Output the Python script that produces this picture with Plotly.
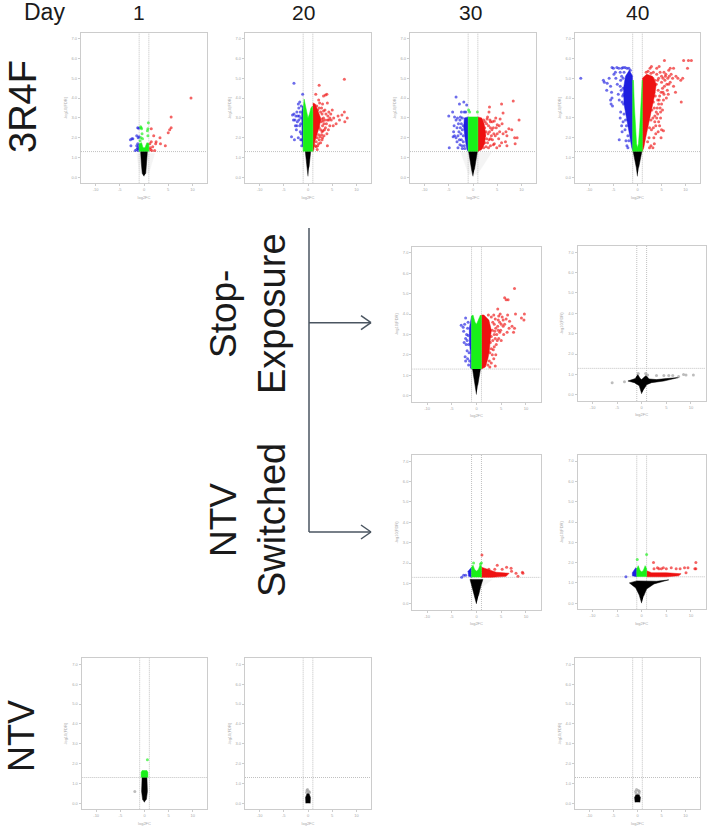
import plotly.graph_objects as go

WIDTH = 709
HEIGHT = 831

days = ["1", "20", "30", "40"]
x_ticks = [-10, -5, 0, 5, 10]
x_tick_labels = ["-10", "-5", "0", "5", "10"]
y_ticks = [0, 1, 2, 3, 4, 5, 6, 7]
y_tick_labels = ["0.0", "1.0", "2.0", "3.0", "4.0", "5.0", "6.0", "7.0"]
fc_cut = 1
fdr_cut = 1.3

# 3R4F day 1
a_faint = [(-0.9, 0.2), (-1.5, 1.2), (2.2, 1.2), (1.0, 0.2)]
a_black = [(0, 0.05), (-0.35, 0.2), (-0.55, 0.7), (-0.7, 1.3), (0.7, 1.3), (0.55, 0.7), (0.35, 0.2)]
a_green = [(-1, 1.3), (-1, 1.7), (-0.5, 1.75), (-0.2, 1.5), (0.2, 1.5), (0.6, 1.75), (1, 1.7), (1, 1.3)]
a_green_pts = [(0.9, 2.75), (-0.6, 2.5), (-0.5, 2.45), (-0.7, 2.55), (-0.6, 2.0), (-0.3, 1.95), (0.8, 2.1),
               (0.7, 2.35), (0.8, 2.45), (-0.8, 1.85), (-0.4, 2.2)]
a_blue_pts = [(-1.3, 1.7), (-2.5, 1.95), (-2.8, 1.9), (-2.3, 1.95), (-1.5, 2.1), (-1, 2.05), (-1.2, 2.0),
              (-1.3, 2.5), (-1.1, 2.48), (-2.7, 1.6), (-1.5, 1.6), (-1.3, 1.5), (-1.1, 1.6), (-1.2, 1.45),
              (-1.8, 1.35), (-1.5, 1.4), (-1.2, 1.35)]
a_red_pts = [(9.7, 4.0), (5.6, 3.05), (5.6, 2.5), (5.3, 2.4), (5.0, 2.25), (1.5, 2.45), (3.3, 2.0), (2.0, 2.1),
             (2.5, 1.8), (2.4, 1.7), (3.4, 1.7), (4.4, 1.6), (1.5, 1.8), (1.2, 1.7), (1.3, 1.5), (1.8, 1.55),
             (1.6, 1.35), (2.2, 1.35), (1.3, 1.4)]

# 3R4F day 20
b_black = [(0, 0.05), (-0.2, 0.5), (-0.55, 1.3), (0.55, 1.3), (0.2, 0.5)]
b_green = [(-1, 1.3), (-1, 3.4), (-0.8, 3.95), (-0.55, 3.6), (-0.3, 3.2), (0, 3.0), (0.3, 3.2), (0.6, 3.5),
           (0.9, 3.6), (1, 3.3), (1, 1.3)]
b_blue = [(-1, 1.5), (-1.2, 1.7), (-1.25, 2.5), (-1.3, 2.9), (-1.3, 3.3), (-1.1, 3.6), (-1, 3.5)]
b_red = [(1, 1.3), (1.2, 1.4), (1.4, 1.8), (1.9, 2.2), (2.4, 2.6), (2.6, 3.0), (2.1, 3.3), (1.5, 3.7), (1, 3.75)]
b_blue_pts = [(-2.9, 4.75), (-1.1, 4.2), (-3.4, 2.05), (-2.8, 1.9), (-2.6, 2.6), (-2.5, 3.1), (-2.9, 3.2),
              (-3.0, 2.9), (-3.2, 3.15), (-2.3, 3.3), (-2.0, 3.7), (-1.9, 3.5), (-1.7, 3.8), (-1.6, 3.3),
              (-2.2, 2.8), (-1.9, 2.9), (-1.7, 2.6), (-1.6, 2.3), (-2.0, 2.0), (-1.5, 1.9), (-1.4, 3.6),
              (-2.4, 2.4), (-2.1, 3.1), (-1.8, 3.1), (-1.5, 2.7), (-1.4, 2.2), (-1.5, 3.0), (-2.7, 2.9),
              (-2.3, 2.6), (-1.3, 1.9), (-1.3, 1.6)]
b_red_pts = [(7.5, 4.95), (2.3, 4.65), (1.6, 4.2), (3.9, 4.2), (3.6, 4.15), (3.2, 4.1), (2.2, 3.9), (4.0, 3.75),
             (3.0, 3.7), (4.3, 3.3), (4.7, 3.2), (5.0, 3.4), (5.3, 3.0), (6.2, 3.1), (7.0, 3.15), (7.5, 3.3),
             (8.1, 3.0), (7.6, 2.8), (6.5, 2.9), (5.8, 2.7), (5.2, 2.6), (4.5, 2.6), (4.0, 2.9), (3.6, 2.5),
             (3.9, 2.2), (3.3, 2.1), (4.0, 1.6), (2.9, 1.9), (2.6, 1.75), (2.0, 1.6), (1.9, 1.4), (3.5, 3.4),
             (2.3, 3.5), (2.6, 3.3), (2.9, 3.2), (3.2, 3.0), (3.5, 2.9), (3.8, 2.7), (2.4, 2.9), (2.7, 2.8),
             (3.0, 2.6), (3.3, 2.7), (4.3, 2.9), (4.8, 2.9), (2.3, 2.5), (2.6, 2.4), (2.9, 2.3), (2.2, 2.15),
             (2.5, 2.05), (1.9, 2.0), (1.7, 1.8), (2.3, 1.9), (1.5, 1.6), (1.8, 3.6), (2.0, 3.4), (2.4, 3.75),
             (2.8, 3.5), (3.2, 3.35), (3.7, 3.2), (4.1, 3.1), (4.5, 3.0), (3.1, 2.85), (2.9, 2.95), (3.4, 2.4),
             (3.1, 2.35), (2.8, 2.15), (4.2, 2.4), (3.0, 2.0), (1.7, 1.55), (2.2, 1.7)]

# 3R4F day 30
c_faint = [(-0.9, 0.15), (-2.5, 1.25), (3.8, 1.25), (0.9, 0.15)]
c_black = [(0, 0.05), (-0.3, 0.4), (-0.9, 1.3), (0.9, 1.3), (0.3, 0.4)]
c_green = [(-1, 1.3), (-1, 3.05), (1, 3.05), (1, 1.3)]
c_blue = [(-1, 1.3), (-1.25, 1.4), (-1.6, 1.9), (-1.9, 2.5), (-1.8, 3.0), (-1, 3.05)]
c_red = [(1, 1.3), (1.8, 1.4), (2.4, 1.7), (2.6, 2.2), (2.3, 2.7), (1.8, 3.0), (1, 3.05)]
c_green_pts = [(-0.9, 3.4), (-0.7, 3.3), (0.9, 3.3)]
c_blue_pts = [(-3.5, 4.05), (-2.8, 3.7), (-1.9, 3.8), (-1.3, 3.65), (-4.2, 3.3), (-2.4, 3.3), (-1.8, 3.3),
              (-1.5, 3.3), (-5.0, 3.1), (-3.8, 3.05), (-3.5, 2.9), (-3.9, 2.6), (-4.0, 2.3), (-3.8, 2.1),
              (-3.5, 2.0), (-4.1, 2.05), (-3.3, 2.5), (-3.0, 2.7), (-2.7, 2.9), (-2.5, 2.2), (-2.8, 1.9),
              (-4.9, 1.5), (-3.3, 1.8), (-3.1, 1.5), (-2.3, 1.6), (-2.2, 1.45), (-2.2, 3.0), (-2.4, 2.7),
              (-2.0, 2.6), (-2.2, 2.4), (-2.6, 2.5), (-2.9, 2.3), (-3.1, 2.1), (-2.0, 2.1), (-2.4, 1.9),
              (-2.0, 1.8), (-1.8, 1.6), (-2.7, 1.65), (-1.7, 1.45), (-3.2, 3.0), (-2.6, 3.05)]
c_red_pts = [(8.3, 3.85), (5.9, 3.7), (3.4, 3.55), (3.3, 3.3), (6.2, 3.25), (9.5, 2.9), (4.7, 3.0), (5.6, 2.95),
             (3.5, 2.9), (3.0, 3.05), (6.0, 2.7), (5.0, 2.65), (7.4, 2.45), (8.0, 2.4), (6.8, 2.3), (7.0, 2.1),
             (6.2, 2.2), (5.5, 2.3), (4.2, 2.5), (3.8, 2.1), (4.6, 2.1), (5.3, 1.95), (8.6, 2.0), (9.1, 2.0),
             (6.7, 1.8), (5.9, 1.75), (4.4, 1.7), (3.6, 1.6), (8.7, 1.7), (7.0, 1.6), (4.9, 1.5), (3.2, 1.5),
             (2.2, 2.9), (2.5, 2.8), (2.8, 2.7), (3.2, 2.6), (3.6, 2.5), (2.4, 2.5), (2.7, 2.3), (3.1, 2.2),
             (3.4, 2.3), (2.4, 2.1), (2.8, 1.95), (3.3, 1.9), (2.4, 1.75), (2.7, 1.55), (2.2, 1.5), (4.0, 2.8),
             (4.3, 2.2), (5.0, 2.2), (4.0, 1.9), (5.5, 1.6), (4.4, 2.85), (4.8, 2.5), (3.9, 2.4), (5.4, 2.6),
             (3.6, 1.95), (4.2, 1.65), (3.0, 1.75), (3.6, 2.8), (2.9, 2.95)]

# 3R4F day 40
d_black = [(0, 0.05), (-0.25, 0.5), (-0.9, 1.3), (0.9, 1.3), (0.25, 0.5)]
d_green = [(-1, 1.3), (-1, 4.9), (-0.85, 4.9), (-0.65, 3.6), (-0.45, 2.5), (-0.2, 1.7), (0, 1.5), (0.2, 1.7),
           (0.45, 2.5), (0.7, 3.6), (1.0, 4.9), (1, 1.3)]
d_blue = [(-1, 1.35), (-1.2, 1.5), (-1.7, 2.2), (-2.3, 3.0), (-2.8, 3.7), (-2.9, 4.5), (-2.5, 5.1), (-1.7, 5.4), (-1, 5.1)]
d_red = [(1, 1.3), (1.3, 1.5), (1.7, 2.0), (2.4, 2.8), (3.1, 3.6), (3.6, 4.2), (3.9, 4.7), (3.1, 5.1), (1.9, 5.2), (1, 5.0)]
d_blue_pts = [(-11.8, 5.0), (-7.1, 4.9), (-6.9, 4.8), (-6.3, 4.75), (-6.4, 4.4), (-5.9, 5.0), (-5.6, 4.6),
              (-5.4, 4.3), (-5.6, 3.9), (-5.5, 3.7), (-5.3, 4.0), (-5.2, 3.6), (-5.3, 5.55), (-5.0, 5.5),
              (-4.6, 5.3), (-4.5, 5.0), (-4.9, 5.2), (-4.3, 5.55), (-3.9, 5.5), (-3.6, 5.3), (-3.3, 5.5),
              (-3.0, 5.55), (-2.6, 5.55), (-4.2, 4.7), (-4.0, 4.2), (-3.6, 4.6), (-3.8, 3.9), (-3.5, 3.3),
              (-3.6, 3.0), (-3.3, 2.6), (-3.2, 2.3), (-3.0, 2.8), (-3.8, 1.9), (-2.6, 2.4), (-2.4, 1.85),
              (-2.2, 1.6), (-2.0, 1.5), (-3.2, 3.8), (-3.4, 4.4), (-3.0, 5.0), (-2.8, 3.2), (-2.5, 2.9),
              (-3.0, 4.5), (-3.1, 4.1), (-2.9, 3.7), (-2.8, 5.3), (-3.3, 5.1), (-2.3, 2.6), (-2.0, 2.1),
              (-1.8, 1.85), (-2.2, 5.5), (-1.8, 5.5), (-1.5, 5.4), (-3.5, 4.9), (-2.9, 4.2)]
d_red_pts = [(9.6, 5.9), (10.6, 5.9), (11.2, 5.9), (5.6, 5.9), (10.4, 5.5), (9.1, 3.8), (7.5, 5.5), (6.8, 5.5),
             (6.5, 5.4), (5.5, 5.3), (4.5, 5.6), (4.0, 5.5), (2.9, 5.6), (2.6, 5.5), (3.3, 5.3), (8.0, 5.1),
             (8.4, 5.0), (9.0, 4.9), (9.4, 5.0), (7.3, 5.0), (6.8, 4.8), (6.5, 4.7), (7.5, 4.6), (7.9, 4.3),
             (6.2, 4.4), (6.0, 4.0), (6.4, 4.2), (5.6, 4.6), (5.3, 4.3), (5.0, 4.8), (5.4, 3.9), (5.0, 3.7),
             (4.8, 3.3), (4.5, 3.9), (4.8, 3.0), (4.6, 2.6), (4.0, 3.0), (3.8, 2.6), (5.0, 2.4), (5.4, 2.35),
             (4.9, 2.0), (3.8, 2.2), (3.4, 2.0), (3.5, 1.7), (2.8, 1.6), (3.2, 1.5), (2.5, 1.5), (4.1, 3.5),
             (3.6, 3.1), (5.8, 5.1), (5.9, 5.2), (6.3, 5.0), (4.7, 5.3), (3.6, 4.9), (3.9, 4.7),
             (3.4, 4.3), (3.7, 4.1), (3.3, 3.8), (3.5, 3.5), (3.0, 3.4), (3.2, 3.0), (2.8, 2.9), (2.9, 2.4),
             (2.5, 2.5), (2.4, 2.0), (2.1, 1.8), (4.3, 4.4), (4.6, 4.1), (4.2, 4.9), (5.0, 5.1), (4.0, 5.2),
             (3.2, 5.0), (2.2, 5.35), (1.8, 5.3), (2.8, 5.25), (4.2, 3.2), (4.4, 2.8), (3.3, 2.5),
             (4.4, 3.7), (4.7, 3.5), (5.2, 4.5), (5.7, 4.9), (5.5, 4.2), (6.1, 4.7), (4.9, 4.3), (4.2, 3.9),
             (3.9, 3.3), (3.6, 2.8), (5.2, 3.4), (4.3, 2.3), (6.6, 5.1), (7.0, 5.2), (4.4, 5.0), (5.3, 5.0)]

# Stop-Exposure day 30
e_black = [(0, 0.05), (-0.25, 0.5), (-0.8, 1.3), (0.8, 1.3), (0.25, 0.5)]
e_green = [(-1, 1.3), (-1, 3.9), (-0.7, 3.95), (-0.3, 3.6), (0, 3.5), (0.3, 3.7), (0.8, 3.95), (1, 3.9), (1, 1.3)]
e_blue = [(-1, 1.3), (-1.25, 1.35), (-1.2, 2), (-1.45, 2.7), (-1.45, 3.3), (-1.2, 3.8), (-1, 3.9)]
e_red = [(1, 1.3), (1.8, 1.4), (2.3, 1.8), (2.6, 2.2), (2.8, 2.8), (3.0, 3.2), (2.5, 3.7), (1.5, 3.95), (1, 3.95)]
e_blue_pts = [(-3.1, 3.45), (-2.7, 3.35), (-2.4, 3.5), (-2.6, 3.15), (-2.2, 3.8), (-2.0, 3.0), (-2.2, 2.8),
              (-2.5, 2.6), (-2.1, 2.5), (-1.9, 2.2), (-2.3, 1.9), (-1.8, 1.8), (-2.2, 1.7), (-1.6, 1.5),
              (-1.8, 3.3), (-1.7, 3.6), (-1.6, 2.5), (-1.9, 2.7), (-1.5, 2.1), (-1.4, 1.7), (-1.7, 2.95)]
e_red_pts = [(7.7, 5.25), (5.7, 4.8), (6.0, 4.7), (6.4, 4.7), (4.3, 4.25), (4.8, 4.0), (7.9, 4.0), (9.7, 4.0),
             (9.1, 3.8), (9.6, 3.7), (6.3, 3.95), (6.0, 3.75), (4.5, 3.9), (3.8, 3.75), (5.2, 3.85), (5.7, 3.5),
             (6.6, 3.3), (7.2, 3.4), (7.7, 3.3), (7.5, 3.1), (6.2, 3.1), (5.5, 3.0), (4.7, 3.1), (4.3, 3.4),
             (5.0, 2.7), (4.2, 2.7), (3.6, 2.4), (3.9, 2.0), (3.5, 1.8), (3.0, 1.6), (3.8, 1.45), (2.7, 1.4),
             (3.0, 3.85), (3.3, 3.6), (3.6, 3.5), (3.9, 3.3), (3.2, 3.2), (4.1, 3.0), (3.6, 3.0), (3.0, 2.9),
             (3.3, 2.7), (2.8, 2.6), (3.0, 2.3), (2.7, 2.1), (3.2, 2.0), (2.6, 1.7), (2.3, 1.5), (5.0, 3.5),
             (5.4, 3.4), (4.9, 3.2), (2.4, 3.95), (3.5, 3.95), (4.4, 3.7), (4.7, 3.6), (5.4, 3.7), (6.7, 3.65),
             (3.8, 2.8), (4.5, 2.8), (4.0, 2.5), (3.4, 2.25), (3.7, 3.15), (4.4, 3.2)]

# Stop-Exposure day 40
f_black = [(0, 0.05), (-0.5, 0.45), (-1.5, 0.6), (-2.8, 0.68), (-1.3, 0.8), (-0.8, 1.0), (-0.3, 0.8), (0, 0.75),
           (0.4, 0.85), (0.9, 0.95), (1.5, 0.78), (3, 0.75), (5, 0.8), (7.5, 0.85), (4.5, 0.68), (2, 0.6), (1, 0.5), (0.5, 0.3)]
f_grey_pts = [(-6, 0.6), (-3.5, 0.65), (3, 0.95), (4.5, 0.95), (5.5, 0.95), (6.3, 0.95), (7.5, 0.9), (9, 0.98),
              (10.5, 0.98), (8.5, 1.0), (-0.7, 1.05), (0.8, 1.05), (1.2, 0.98)]

# NTV Switched day 30
g_faint = [(-1.5, 1.2), (3.2, 1.2), (1.0, 0.8), (-1.0, 0.8)]
g_black = [(0, 0), (-0.4, 0.4), (-0.9, 0.9), (-1.3, 1.2), (1.3, 1.2), (0.9, 0.9), (0.4, 0.4)]
g_green = [(-1, 1.3), (-1, 1.8), (-0.7, 1.9), (-0.4, 1.7), (0, 1.6), (0.4, 1.7), (0.7, 1.9), (1, 1.85), (1, 1.3)]
g_blue = [(-1, 1.3), (-1.6, 1.35), (-1.7, 1.6), (-1.2, 1.75), (-1, 1.8)]
g_red = [(1, 1.3), (3, 1.3), (6, 1.35), (6.6, 1.5), (4, 1.55), (2, 1.7), (1, 1.8)]
g_green_pts = [(-0.6, 2.0), (0.8, 1.95), (1, 2.0)]
g_blue_pts = [(-3, 1.3), (-2.6, 1.4), (-2.2, 1.4)]
g_red_pts = [(1.1, 2.4), (4.2, 1.9), (6.1, 1.8), (7, 1.75), (7.1, 1.6), (8, 1.5), (8.4, 1.35), (9.3, 1.55),
             (9.4, 1.5), (5.2, 1.7), (3.7, 1.7), (2.5, 1.7)]

# NTV Switched day 40
h_black = [(0, 0.0), (-0.5, 0.4), (-1.2, 0.75), (-2.5, 1.0), (-1, 1.1), (1, 1.1), (3, 1.08), (5.5, 1.15),
           (2.5, 0.95), (1, 0.7), (0.4, 0.35)]
h_green = [(-1, 1.3), (-1, 1.7), (-0.7, 1.85), (-0.3, 1.6), (0, 1.55), (0.3, 1.6), (0.7, 1.85), (1, 1.7), (1, 1.3)]
h_blue = [(-1, 1.3), (-1.9, 1.35), (-1.9, 1.5), (-1.2, 1.75), (-1, 1.7)]
h_red = [(1, 1.3), (5, 1.3), (7.5, 1.35), (8, 1.45), (5, 1.5), (2, 1.5), (1, 1.6)]
h_green_pts = [(-0.9, 2.15), (1, 2.4)]
h_blue_pts = [(-3.2, 1.3)]
h_red_pts = [(2.4, 2.0), (11, 2.0), (11, 1.7), (10.8, 1.7), (2.5, 1.7), (3.2, 1.75), (3.5, 1.7), (4, 1.7),
             (4.4, 1.75), (5, 1.7), (6, 1.75), (7, 1.7), (7.8, 1.7), (8.7, 1.75), (9.4, 1.75), (9, 1.5)]

# NTV day 1
i_black = [(0, 0.05), (-0.4, 0.2), (-0.6, 0.6), (-0.5, 1.3), (0.5, 1.3), (0.6, 0.6), (0.4, 0.2)]
i_green = [(-0.7, 1.3), (-0.7, 1.55), (-0.5, 1.65), (0.5, 1.65), (0.7, 1.55), (0.7, 1.3)]
i_green_pts = [(0.6, 2.2)]
i_grey_pts = [(-2, 0.6)]

# NTV day 20
j_black = [(-0.45, 0.0), (-0.5, 0.3), (-0.2, 0.5), (0.2, 0.5), (0.5, 0.3), (0.45, 0.0)]
j_grey_pts = [(-0.2, 0.65), (0.2, 0.6), (-0.3, 0.55), (0.3, 0.55), (-0.1, 0.7)]

# NTV day 40
k_black = [(-0.5, 0.05), (-0.6, 0.3), (-0.3, 0.45), (0.3, 0.45), (0.6, 0.3), (0.5, 0.05)]
k_grey_pts = [(-0.2, 0.7), (0.2, 0.65), (-0.4, 0.6), (0.4, 0.6), (-0.3, 0.5), (0.3, 0.5)]

BLACK = "#000000"
BLUE = "#1f1fe0"
RED = "#ee1111"
GREEN = "#19f019"
FAINT = "#f4f4f4"
GREY = "#9a9a9a"
AXIS = "#cccccc"
TICK = "#a8a8a8"
DARK = "#1a1a1a"
ARROW = "#4a5560"

# x0, x1, y0, y1 of each plot frame on the page, then the marks for that panel
panels = [
    dict(box=(81, 207, 32.7, 183.3), faint=a_faint, black=a_black, green=a_green, green_pts=a_green_pts, blue_pts=a_blue_pts, red_pts=a_red_pts),
    dict(box=(245, 371, 32.7, 183.3), black=b_black, green=b_green, blue=b_blue, red=b_red, blue_pts=b_blue_pts, red_pts=b_red_pts),
    dict(box=(410, 536, 32.7, 183.3), faint=c_faint, black=c_black, green=c_green, blue=c_blue, red=c_red, green_pts=c_green_pts, blue_pts=c_blue_pts, red_pts=c_red_pts),
    dict(box=(575, 700, 32.7, 183.3), black=d_black, green=d_green, blue=d_blue, red=d_red, blue_pts=d_blue_pts, red_pts=d_red_pts),
    dict(box=(412.3, 540.7, 246.7, 401.7), black=e_black, green=e_green, blue=e_blue, red=e_red, blue_pts=e_blue_pts, red_pts=e_red_pts),
    dict(box=(577.7, 705.7, 246, 401), black=f_black, grey_pts=f_grey_pts),
    dict(box=(412.3, 540.7, 455, 610), faint=g_faint, black=g_black, green=g_green, blue=g_blue, red=g_red, green_pts=g_green_pts, blue_pts=g_blue_pts, red_pts=g_red_pts),
    dict(box=(577.7, 705.7, 455, 609.3), black=h_black, green=h_green, blue=h_blue, red=h_red, green_pts=h_green_pts, blue_pts=h_blue_pts, red_pts=h_red_pts),
    dict(box=(81.7, 207.3, 658.3, 809.3), black=i_black, green=i_green, green_pts=i_green_pts, grey_pts=i_grey_pts),
    dict(box=(245, 371, 658.3, 809.3), black=j_black, grey_pts=j_grey_pts),
    dict(box=(575, 700, 658.3, 809.3), black=k_black, grey_pts=k_grey_pts),
]


def px(x):
    return x / WIDTH


def py(y):
    return 1 - y / HEIGHT


def area(points, color, n):
    return go.Scatter(
        x=[p[0] for p in points],
        y=[p[1] for p in points],
        mode="lines",
        fill="toself",
        fillcolor=color,
        line=dict(color=color, width=0.5),
        xaxis=f"x{n}",
        yaxis=f"y{n}",
        showlegend=False,
        hoverinfo="skip",
    )


def dots(points, color, n):
    return go.Scatter(
        x=[p[0] for p in points],
        y=[p[1] for p in points],
        mode="markers",
        marker=dict(color=color, size=3, opacity=0.65),
        xaxis=f"x{n}",
        yaxis=f"y{n}",
        showlegend=False,
        hoverinfo="skip",
    )


def cut_line(xs, ys, n):
    return go.Scatter(
        x=xs,
        y=ys,
        mode="lines",
        line=dict(color="#c0c0c0", width=1, dash="1px,1px"),
        xaxis=f"x{n}",
        yaxis=f"y{n}",
        showlegend=False,
        hoverinfo="skip",
    )


fig = go.Figure()
layout_axes = {}

for n, p in enumerate(panels, start=1):
    x0, x1, y0, y1 = p["box"]
    if "faint" in p:
        fig.add_trace(area(p["faint"], FAINT, n))
    fig.add_trace(cut_line([-fc_cut, -fc_cut], [-0.3, 7.3], n))
    fig.add_trace(cut_line([fc_cut, fc_cut], [-0.3, 7.3], n))
    fig.add_trace(cut_line([-13, 13], [fdr_cut, fdr_cut], n))
    fig.add_trace(area(p["black"], BLACK, n))
    if "grey_pts" in p:
        fig.add_trace(dots(p["grey_pts"], GREY, n))
    if "blue" in p:
        fig.add_trace(area(p["blue"], BLUE, n))
    if "red" in p:
        fig.add_trace(area(p["red"], RED, n))
    if "blue_pts" in p:
        fig.add_trace(dots(p["blue_pts"], BLUE, n))
    if "red_pts" in p:
        fig.add_trace(dots(p["red_pts"], RED, n))
    if "green" in p:
        fig.add_trace(area(p["green"], GREEN, n))
    if "green_pts" in p:
        fig.add_trace(dots(p["green_pts"], GREEN, n))

    layout_axes[f"xaxis{n}"] = dict(
        domain=[px(x0), px(x1)],
        anchor=f"y{n}",
        range=[-13, 13],
        tickvals=x_ticks,
        ticktext=x_tick_labels,
        ticks="outside",
        ticklen=2,
        tickcolor=AXIS,
        tickfont=dict(size=4, color=TICK, family="Liberation Sans"),
        title=dict(text="log2FC", font=dict(size=4, color=TICK, family="Liberation Sans"), standoff=4),
        showgrid=False,
        zeroline=False,
        showline=True,
        mirror=True,
        linecolor=AXIS,
        linewidth=1.2,
    )
    layout_axes[f"yaxis{n}"] = dict(
        domain=[py(y1), py(y0)],
        anchor=f"x{n}",
        range=[-0.3, 7.3],
        tickvals=y_ticks,
        ticktext=y_tick_labels,
        ticks="outside",
        ticklen=2,
        tickcolor=AXIS,
        tickfont=dict(size=4, color=TICK, family="Liberation Sans"),
        title=dict(text="-log10(FDR)", font=dict(size=4, color=TICK, family="Liberation Sans"), standoff=4),
        showgrid=False,
        zeroline=False,
        showline=True,
        mirror=True,
        linecolor=AXIS,
        linewidth=1.2,
    )


def label(text, x, y, size, angle=0):
    fig.add_annotation(
        text=text,
        x=px(x),
        y=py(y),
        xref="paper",
        yref="paper",
        xanchor="center",
        yanchor="middle",
        textangle=angle,
        showarrow=False,
        font=dict(size=size, color=DARK, family="Liberation Sans"),
    )


label("Day", 44, 12, 23)
for day, x in zip(days, [139, 303, 470, 637]):
    label(day, x, 13, 21)
label("3R4F", 23, 107, 38, -90)
label("Stop-", 223, 314, 37, -90)
label("Exposure", 272, 314, 38, -90)
label("NTV", 223, 520, 37, -90)
label("Switched", 272, 520, 38, -90)
label("NTV", 21, 736, 36, -90)


def connector(x0, y0, x1, y1):
    fig.add_shape(
        type="line",
        xref="paper",
        yref="paper",
        x0=px(x0),
        y0=py(y0),
        x1=px(x1),
        y1=py(y1),
        line=dict(color=ARROW, width=1.5),
    )


connector(309, 228, 309, 532)
for y in [322.7, 532]:
    connector(309, y, 371, y)
    connector(361, y - 7, 371, y)
    connector(361, y + 7, 371, y)

fig.update_layout(
    width=WIDTH,
    height=HEIGHT,
    margin=dict(l=0, r=0, t=0, b=0),
    paper_bgcolor="white",
    plot_bgcolor="white",
    showlegend=False,
    **layout_axes,
)

# the page's default body margin would push the figure 8px off the window
fig.write_html(
    "out.html",
    config={"displayModeBar": False},
    post_script="document.body.style.margin = '0';",
)
